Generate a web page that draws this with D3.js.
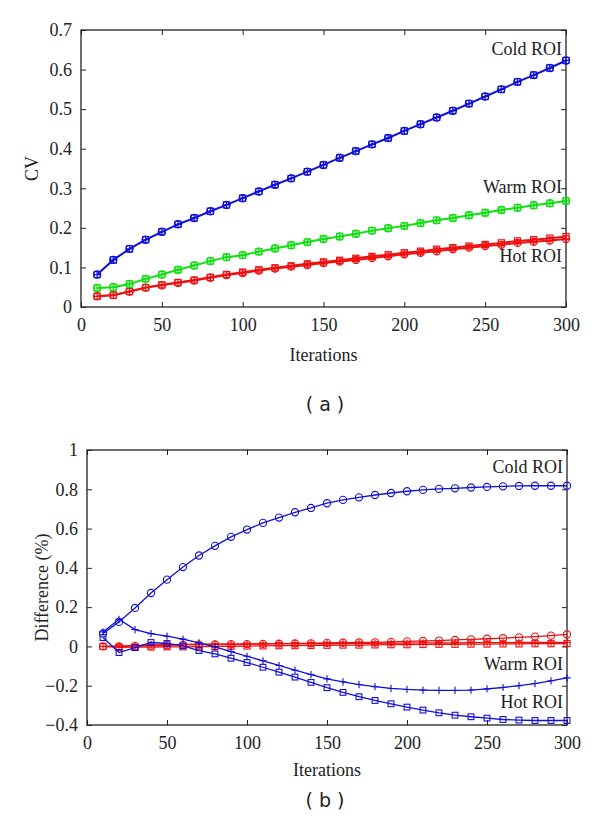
<!DOCTYPE html>
<html><head><meta charset="utf-8">
<script src="https://cdn.jsdelivr.net/npm/d3@7"></script>
<style>
body{margin:0;background:#fff}
text{font-family:"Liberation Serif","DejaVu Serif",serif;fill:#222}
</style></head>
<body><svg id="c" width="600" height="832"></svg>
<script>
const iterations = [10,20,30,40,50,60,70,80,90,100,110,120,130,140,150,160,170,180,190,200,210,220,230,240,250,260,270,280,290,300];
const xTicks = [0,50,100,150,200,250,300];
const cvTicks = [0,0.1,0.2,0.3,0.4,0.5,0.6,0.7];
const diffTicks = [-0.4,-0.2,0,0.2,0.4,0.6,0.8,1];

// (a) CV
const cvCold = [0.082,0.119,0.147,0.170,0.190,0.209,0.225,0.242,0.258,0.275,0.292,0.309,0.325,0.342,0.359,0.377,0.394,0.411,0.427,0.445,0.462,0.479,0.496,0.514,0.532,0.550,0.569,0.586,0.604,0.623];
const cvWarm = [0.048,0.050,0.058,0.071,0.082,0.094,0.105,0.116,0.126,0.131,0.140,0.148,0.156,0.164,0.172,0.178,0.185,0.193,0.199,0.205,0.212,0.219,0.225,0.232,0.238,0.245,0.251,0.257,0.262,0.268];
const cvHotA = [0.027,0.030,0.039,0.049,0.055,0.061,0.067,0.074,0.081,0.086,0.092,0.097,0.102,0.106,0.111,0.115,0.119,0.124,0.128,0.133,0.137,0.141,0.146,0.150,0.154,0.157,0.162,0.165,0.168,0.172];
const cvHotB = [0.027,0.030,0.039,0.049,0.056,0.062,0.068,0.075,0.082,0.088,0.094,0.099,0.104,0.109,0.114,0.118,0.123,0.128,0.132,0.137,0.141,0.146,0.150,0.154,0.158,0.162,0.167,0.170,0.174,0.178];

// (b) Difference (%)
const diffColdBlue = [0.066,0.125,0.196,0.272,0.340,0.404,0.463,0.512,0.558,0.595,0.629,0.656,0.683,0.705,0.729,0.746,0.759,0.771,0.781,0.790,0.797,0.802,0.805,0.809,0.812,0.815,0.817,0.818,0.818,0.818];
const diffWarmBlue = [0.074,0.138,0.086,0.065,0.052,0.037,0.018,-0.002,-0.026,-0.050,-0.073,-0.097,-0.121,-0.143,-0.165,-0.180,-0.194,-0.205,-0.214,-0.219,-0.222,-0.224,-0.224,-0.222,-0.216,-0.209,-0.200,-0.189,-0.175,-0.160];
const diffHotBlue = [0.045,-0.031,-0.006,0.020,0.015,0.003,-0.021,-0.038,-0.060,-0.082,-0.106,-0.131,-0.156,-0.183,-0.210,-0.234,-0.256,-0.275,-0.292,-0.309,-0.324,-0.338,-0.350,-0.358,-0.365,-0.372,-0.375,-0.377,-0.377,-0.377];
const diffColdRed = [0.000,0.000,0.002,0.004,0.006,0.008,0.009,0.010,0.011,0.012,0.013,0.014,0.015,0.016,0.018,0.019,0.020,0.021,0.023,0.026,0.028,0.030,0.033,0.036,0.039,0.042,0.046,0.050,0.055,0.061];
const diffWarmRed = [0.000,0.002,0.005,0.008,0.009,0.010,0.011,0.012,0.012,0.013,0.013,0.014,0.014,0.015,0.015,0.016,0.016,0.016,0.017,0.017,0.018,0.018,0.018,0.019,0.019,0.019,0.020,0.020,0.021,0.021];
const diffHotRed = [0.000,-0.005,-0.004,-0.003,-0.002,-0.002,-0.001,0.000,0.001,0.002,0.003,0.004,0.004,0.005,0.006,0.007,0.007,0.008,0.009,0.009,0.010,0.011,0.011,0.012,0.012,0.013,0.013,0.014,0.014,0.015];

const BLUE="#1010d8", GREEN="#10e010", RED="#ee1010";
const SERIF='"Liberation Serif","DejaVu Serif",serif';
const FS="18px";
const svg = d3.select("#c");

function panel(o){
  const x = d3.scaleLinear().domain([0,300]).range([o.left,o.right]);
  const y = d3.scaleLinear().domain(o.ydom).range([o.bottom,o.top]);
  const g = svg.append("g");
  const fmt = d => d<0 ? "\u2212"+Math.abs(d) : String(d);
  const ax = (axis, tr) => {
    const a = g.append("g").attr("transform", tr).call(axis);
    a.attr("font-family",null).attr("font-size",null);
    a.select(".domain").remove();
    a.selectAll("line").attr("stroke","#222").attr("stroke-width",1);
    a.selectAll("text").style("font-family",SERIF).style("font-size",FS).attr("fill","#222");
    return a;
  };
  ax(d3.axisBottom(x).tickValues(xTicks).tickSizeInner(-5).tickSizeOuter(0).tickPadding(11), `translate(0,${o.bottom})`);
  ax(d3.axisTop(x).tickValues(xTicks).tickSizeInner(-5).tickSizeOuter(0).tickFormat(""), `translate(0,${o.top})`);
  ax(d3.axisLeft(y).tickValues(o.yticks).tickSizeInner(-5).tickSizeOuter(0).tickPadding(9).tickFormat(fmt), `translate(${o.left},0)`);
  ax(d3.axisRight(y).tickValues(o.yticks).tickSizeInner(-5).tickSizeOuter(0).tickFormat(""), `translate(${o.right},0)`);
  g.append("rect").attr("x",o.left).attr("y",o.top).attr("width",o.right-o.left).attr("height",o.bottom-o.top)
    .attr("fill","none").attr("stroke","#222").attr("stroke-width",1.3);

  const line = d3.line().x((d,i)=>x(iterations[i])).y(d=>y(d));
  o.series.forEach(s=>{
    g.append("path").datum(s.values).attr("d",line).attr("fill","none")
      .attr("stroke",s.color).attr("stroke-width",s.lw);
    const m = g.append("g").attr("fill","none").attr("stroke",s.color).attr("stroke-width",s.mw);
    s.values.forEach((v,i)=>{
      const cx = x(iterations[i]), cy = y(v), r = s.r;
      if(s.markers.includes("o")) m.append("circle").attr("cx",cx).attr("cy",cy).attr("r",r);
      if(s.markers.includes("+")) m.append("path").attr("d",`M${cx-r},${cy}H${cx+r}M${cx},${cy-r}V${cy+r}`);
      if(s.markers.includes("s")) m.append("rect").attr("x",cx-r*0.85).attr("y",cy-r*0.85).attr("width",r*1.7).attr("height",r*1.7);
    });
  });
  o.labels.forEach(l=>{
    g.append("text").attr("x",o.right-4).attr("y",y(l.v)).attr("dy","0.35em").attr("text-anchor","end")
      .style("font-family",SERIF).style("font-size",FS).text(l.t);
  });
  g.append("text").attr("x",(o.left+o.right)/2).attr("y",o.bottom+o.xlabOff).attr("dy","0.35em")
    .attr("text-anchor","middle").style("font-family",SERIF).style("font-size",FS).text("Iterations");
  g.append("text").attr("transform",`translate(${o.ylabX},${(o.top+o.bottom)/2}) rotate(-90)`)
    .attr("dy","0.35em").attr("text-anchor","middle").style("font-family",SERIF).style("font-size",FS).text(o.ylab);
  g.append("text").attr("x",325).attr("y",o.caption).attr("dy","0.35em").attr("text-anchor","middle")
    .style("font-family","DejaVu Sans, sans-serif").style("font-size","19px").attr("fill","#000").text(o.cap);
}

panel({left:81,right:566,top:30,bottom:307,ydom:[0,0.7],yticks:cvTicks,ylab:"CV",ylabX:32,xlabOff:48,caption:404,cap:"( a )",
  series:[
    {values:cvHotB,color:RED,lw:2,mw:1.2,r:3.6,markers:"s"},
    {values:cvHotA,color:RED,lw:2,mw:1.2,r:3.6,markers:"o+"},
    {values:cvWarm,color:GREEN,lw:2,mw:1.2,r:3.6,markers:"o+s"},
    {values:cvCold,color:BLUE,lw:2,mw:1.2,r:3.6,markers:"o+s"}
  ],
  labels:[{v:0.652,t:"Cold ROI"},{v:0.305,t:"Warm ROI"},{v:0.129,t:"Hot ROI"}]
});

panel({left:87,right:567,top:450,bottom:725,ydom:[-0.4,1],yticks:diffTicks,ylab:"Difference (%)",ylabX:42,xlabOff:45,caption:800,cap:"( b )",
  series:[
    {values:diffHotRed,color:RED,lw:1.3,mw:1.1,r:3.6,markers:"s"},
    {values:diffWarmRed,color:RED,lw:1.3,mw:1.1,r:3.6,markers:"+"},
    {values:diffColdRed,color:RED,lw:1.3,mw:1.1,r:3.6,markers:"o"},
    {values:diffHotBlue,color:BLUE,lw:1.3,mw:1.1,r:3.4,markers:"s"},
    {values:diffWarmBlue,color:BLUE,lw:1.3,mw:1.1,r:3.6,markers:"+"},
    {values:diffColdBlue,color:BLUE,lw:1.3,mw:1.1,r:3.6,markers:"o"}
  ],
  labels:[{v:0.913,t:"Cold ROI"},{v:-0.09,t:"Warm ROI"},{v:-0.283,t:"Hot ROI"}]
});
</script></body></html>
